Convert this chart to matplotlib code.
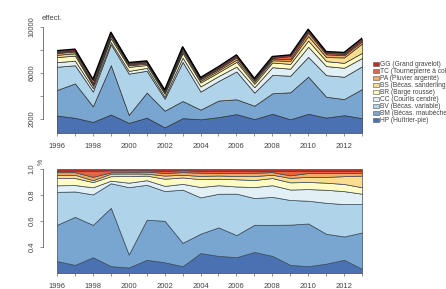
import matplotlib
matplotlib.use("Agg")
import matplotlib.pyplot as plt
import numpy as np
from matplotlib.patches import Patch

plt.rcParams["font.family"] = ["Liberation Sans", "DejaVu Sans"]

years = list(range(1996, 2014))

# comptages par espèce (du bas vers le haut de la pile)
hp = [2300, 2100, 1740, 2390, 1660, 2110, 1270, 2070, 1970, 2160, 2420, 1990, 2450, 1970, 2450, 2120, 2330, 2070]
bm = [2220, 2990, 1360, 4290, 690, 2180, 1450, 1490, 840, 1440, 1290, 1160, 1780, 2350, 3230, 1810, 1400, 2530]
bv = [2020, 1580, 1280, 1810, 3590, 1900, 1040, 3400, 1570, 1700, 2420, 1140, 1600, 1440, 1720, 1880, 1940, 1980]
cc = [400, 400, 300, 190, 240, 250, 180, 370, 450, 430, 420, 470, 670, 610, 880, 790, 780, 720]
br = [440, 440, 220, 330, 350, 250, 250, 410, 340, 330, 420, 300, 410, 420, 540, 430, 430, 450]
bs = [200, 200, 80, 190, 140, 110, 110, 170, 140, 160, 190, 170, 190, 260, 390, 350, 470, 810]
pa = [160, 160, 140, 100, 70, 110, 90, 170, 140, 130, 190, 140, 150, 150, 290, 240, 190, 180]
tc = [80, 80, 250, 140, 100, 70, 70, 120, 80, 100, 110, 80, 70, 260, 150, 120, 120, 140]
gg = [120, 120, 80, 100, 70, 70, 70, 80, 80, 100, 110, 80, 110, 110, 150, 120, 120, 140]

labels = ["HP (Huîtrier-pie)", "BM (Bécas. maubèche)", "BV (Bécas. variable)",
          "CC (Courlis cendré)", "BR (Barge rousse)", "BS (Bécas. sanderling)",
          "PA (Pluvier argenté)", "TC (Tournepierre à collier)", "GG (Grand gravelot)"]
colors = ["#4A72B2", "#78A6D1", "#AFD3E8", "#E2F0F5", "#FFFBC4",
          "#FBDD8E", "#F3AA63", "#E8643F", "#B8302A"]

counts = np.array([hp, bm, bv, cc, br, bs, pa, tc, gg], dtype=float)
props = counts / counts.sum(axis=0)

txt = "#444444"
fig = plt.figure(figsize=(4.46, 2.89), dpi=100)
ax1 = fig.add_axes([57 / 446, 1 - 133 / 289, 305 / 446, 111 / 289])
ax2 = fig.add_axes([57 / 446, 1 - 272.7 / 289, 305 / 446, 103.7 / 289])

ax1.stackplot(years, counts, colors=colors, edgecolor="#333333", linewidth=0.5)
ax1.plot(years, counts.sum(axis=0), color="black", linewidth=1.0)
ax2.stackplot(years, props, colors=colors, edgecolor="#3a4a5a", linewidth=0.5)

ax1.set_ylim(780, 10430)
ax2.set_ylim(0.2, 1.0)

for ax in (ax1, ax2):
    ax.set_xlim(1996, 2013)
    ax.spines["top"].set_visible(False)
    ax.spines["right"].set_visible(False)
    ax.spines["left"].set_position(("outward", 10))
    ax.spines["bottom"].set_bounds(1996, 2013)
    for s in ("left", "bottom"):
        ax.spines[s].set_color("#666666")
        ax.spines[s].set_linewidth(0.6)
    ax.set_xticks(years)
    ax.set_xticklabels([str(y) if y % 2 == 0 else "" for y in years])
    ax.tick_params(axis="both", direction="out", length=2.5, width=0.5,
                   color="#666666", labelcolor=txt, labelsize=5.5)
    ax.tick_params(axis="x", pad=5)
    ax.tick_params(axis="y", pad=3)
    ax.set_facecolor("none")

ax1.spines["left"].set_bounds(2000, 10000)
ax1.set_yticks([2000, 4000, 6000, 8000, 10000])
ax1.set_yticklabels(["2000", "", "6000", "", "10000"], rotation=90, va="center")

ax2.spines["left"].set_bounds(0.4, 1.0)
ax2.set_yticks([0.4, 0.6, 0.8, 1.0])
ax2.set_yticklabels(["0.4", "0.6", "0.8", "1.0"], rotation=90, va="center")

fig.text(42 / 446, 1 - 19 / 289, "effect.", fontsize=5.5, color=txt, va="center")
fig.text(41 / 446, 1 - 162 / 289, "%", fontsize=5, color=txt, va="center",
         ha="center", rotation=90)

handles = [Patch(facecolor=c, edgecolor="#555555", linewidth=0.4) for c in colors]
fig.legend(handles[::-1], labels[::-1], loc="upper left",
           bbox_to_anchor=(370 / 446, 1 - 58 / 289), frameon=False,
           fontsize=4.8, handlelength=0.8, handleheight=0.6, labelspacing=0.0,
           handletextpad=0.2, borderpad=0, labelcolor=txt)

fig.savefig("out.png", dpi=100)
